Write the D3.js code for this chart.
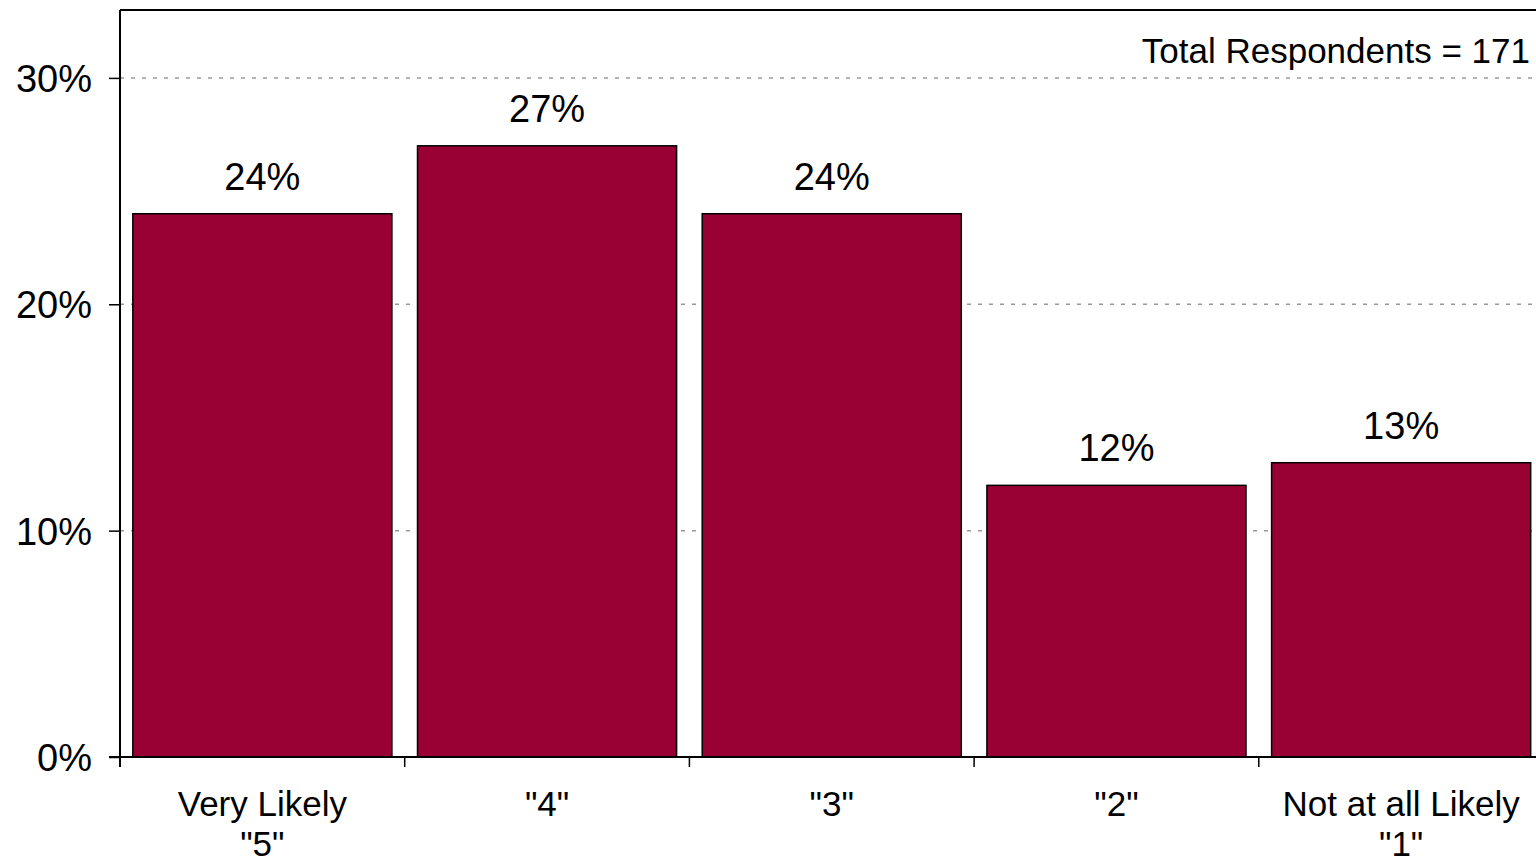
<!DOCTYPE html>
<html>
<head>
<meta charset="utf-8">
<script src="https://cdn.jsdelivr.net/npm/d3@7"></script>
<style>
  html, body { margin: 0; padding: 0; background: #fff; overflow: hidden; }
  svg { display: block; font-family: "Liberation Sans", Arial, sans-serif; }
</style>
</head>
<body>
<svg id="chart" width="1536" height="865"></svg>
<script>
// Likelihood ratings
const categories = ['Very Likely\n"5"', '"4"', '"3"', '"2"', 'Not at all Likely\n"1"'];
const values = [0.24, 0.27, 0.24, 0.12, 0.13];
const yTicks = [0, 0.1, 0.2, 0.3];
const note = "Total Respondents = 171";

const svg = d3.select("#chart");
const plotLeft = 120, plotRight = 1543.5, plotTop = 10, plotBottom = 757;

const x = d3.scaleBand()
  .domain(categories)
  .range([plotLeft, plotRight])
  .paddingInner(0.09)
  .paddingOuter(0.045);

const y = d3.scaleLinear().domain([0, 0.33]).range([plotBottom, plotTop]);
const pct = d3.format(".0%");

// dashed gridlines
svg.append("g")
  .selectAll("line")
  .data(yTicks.filter(t => t > 0))
  .join("line")
  .attr("x1", plotLeft).attr("x2", plotRight)
  .attr("y1", d => y(d)).attr("y2", d => y(d))
  .attr("stroke", "#999")
  .attr("stroke-width", 1.5)
  .attr("stroke-dasharray", "4,7");

// plot frame (top and right)
svg.append("path")
  .attr("d", `M${plotLeft},${plotTop}H${plotRight}V${plotBottom}`)
  .attr("fill", "none")
  .attr("stroke", "#000")
  .attr("stroke-width", 2);

// bars
svg.append("g")
  .selectAll("rect")
  .data(values)
  .join("rect")
  .attr("x", (d, i) => x(categories[i]))
  .attr("y", d => y(d))
  .attr("width", x.bandwidth())
  .attr("height", d => y(0) - y(d))
  .attr("fill", "#990033")
  .attr("stroke", "#000")
  .attr("stroke-width", 1.5);

// value labels
svg.append("g")
  .selectAll("text")
  .data(values)
  .join("text")
  .attr("x", (d, i) => x(categories[i]) + x.bandwidth() / 2)
  .attr("y", d => y(d) - 24)
  .attr("text-anchor", "middle")
  .attr("font-size", 38)
  .attr("fill", "#000")
  .text(d => pct(d));

// y axis
const yAxis = svg.append("g")
  .attr("transform", `translate(${plotLeft},0)`)
  .call(d3.axisLeft(y).tickValues(yTicks).tickFormat(pct).tickSize(11).tickPadding(17));
yAxis.select(".domain").remove();
yAxis.selectAll(".tick line").attr("stroke", "#000").attr("stroke-width", 1.5);
yAxis.selectAll(".tick text")
  .attr("font-size", 38)
  .attr("font-family", "Liberation Sans, Arial, sans-serif")
  .attr("fill", "#000")
  .attr("dy", "0.36em");
yAxis.append("line")
  .attr("x1", 0).attr("x2", 0)
  .attr("y1", plotTop).attr("y2", plotBottom + 10)
  .attr("stroke", "#000").attr("stroke-width", 2);

// x axis baseline and category boundary ticks
const gap = x.step() * x.paddingInner();
svg.append("line")
  .attr("x1", plotLeft - 11).attr("x2", plotRight)
  .attr("y1", plotBottom).attr("y2", plotBottom)
  .attr("stroke", "#000").attr("stroke-width", 2);
svg.append("g")
  .selectAll("line")
  .data(categories.slice(1))
  .join("line")
  .attr("x1", d => x(d) - gap / 2).attr("x2", d => x(d) - gap / 2)
  .attr("y1", plotBottom).attr("y2", plotBottom + 10)
  .attr("stroke", "#000").attr("stroke-width", 1.5);

// category labels
const cat = svg.append("g")
  .selectAll("text")
  .data(categories)
  .join("text")
  .attr("x", d => x(d) + x.bandwidth() / 2)
  .attr("y", 816)
  .attr("text-anchor", "middle")
  .attr("font-size", 35)
  .attr("fill", "#000");
cat.each(function(d) {
  const t = d3.select(this);
  const cx = t.attr("x");
  d.split("\n").forEach((line, i) => {
    t.append("tspan").attr("x", cx).attr("dy", i === 0 ? 0 : 40).text(line);
  });
});

// respondent count
svg.append("text")
  .attr("x", 1530)
  .attr("y", 63)
  .attr("text-anchor", "end")
  .attr("font-size", 35)
  .attr("fill", "#000")
  .text(note);
</script>
</body>
</html>
